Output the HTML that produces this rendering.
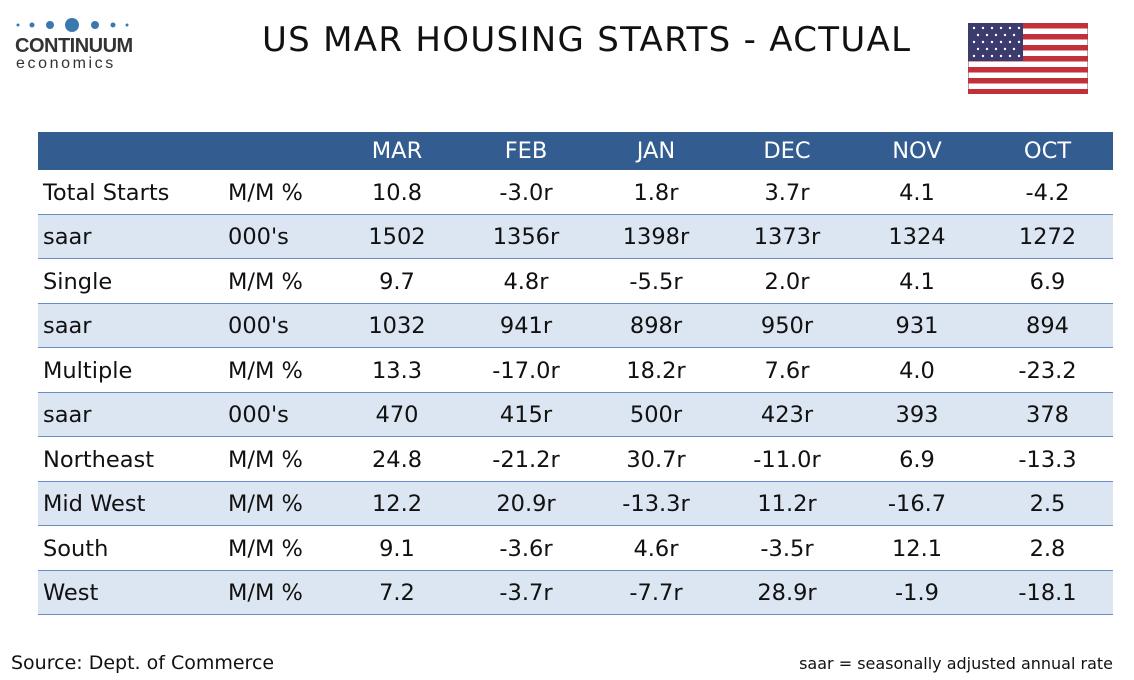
<!DOCTYPE html>
<html><head><style>
body{margin:0;width:1134px;height:680px;background:#fff;font-family:"DejaVu Sans","Liberation Sans",sans-serif;position:relative;overflow:hidden}
.abs{position:absolute}
table{position:absolute;left:38px;top:132px;width:1075px;border-collapse:collapse;font-size:22.5px;color:#111;table-layout:fixed}
td{height:41.5px;padding:2px 0 0 0;border-bottom:1.5px solid #6a8cc4;text-align:center;width:130px}
tr.h td{height:38px;padding:0;background:#335c91;color:#fff;border-bottom:none}
tr.l td{background:#dce6f2}
td.a{text-align:left;padding-left:5px;width:185px}
td.b{text-align:left;width:104px}
</style></head><body>
<svg class="abs" style="left:15px;top:15px" width="115" height="20">
<circle cx="3" cy="10" r="1.5" fill="#3a78b0"/><circle cx="17" cy="10" r="2.5" fill="#3a78b0"/>
<circle cx="35" cy="10" r="4" fill="#3a78b0"/><circle cx="57" cy="10" r="7" fill="#3a78b0"/>
<circle cx="80" cy="10" r="4" fill="#3a78b0"/><circle cx="98" cy="10" r="2.5" fill="#3a78b0"/><circle cx="112" cy="10" r="1.5" fill="#3a78b0"/></svg>
<div class="abs" style="left:15px;top:35px;font:bold 20px 'Liberation Sans',sans-serif;color:#333;letter-spacing:-0.5px">CONTINUUM</div>
<div class="abs" style="left:16px;top:55px;font:16px 'Liberation Sans',sans-serif;color:#333;letter-spacing:2.6px">economics</div>
<div class="abs" style="left:262px;top:20px;font-size:34px;color:#111;letter-spacing:1.3px">US MAR HOUSING STARTS - ACTUAL</div>
<svg class="abs" style="left:968px;top:23px" width="120" height="71" viewBox="0 0 120 71">
<rect width="120" height="71" fill="#fff" stroke="#555"/>
<g fill="#c2313a"><rect y="0" width="120" height="5.5"/><rect y="11" width="120" height="5.5"/><rect y="22" width="120" height="5.5"/><rect y="33" width="120" height="5.5"/><rect y="44" width="120" height="5.5"/><rect y="55" width="120" height="5.5"/><rect y="66" width="120" height="5"/></g>
<rect width="55" height="38" fill="#3b3b6d"/>
<g fill="#fff">
<circle cx="6" cy="5" r="1.2"/><circle cx="15" cy="5" r="1.2"/><circle cx="24" cy="5" r="1.2"/><circle cx="33" cy="5" r="1.2"/><circle cx="42" cy="5" r="1.2"/><circle cx="51" cy="5" r="1.2"/>
<circle cx="10" cy="12" r="1.2"/><circle cx="19" cy="12" r="1.2"/><circle cx="28" cy="12" r="1.2"/><circle cx="37" cy="12" r="1.2"/><circle cx="46" cy="12" r="1.2"/>
<circle cx="6" cy="19" r="1.2"/><circle cx="15" cy="19" r="1.2"/><circle cx="24" cy="19" r="1.2"/><circle cx="33" cy="19" r="1.2"/><circle cx="42" cy="19" r="1.2"/><circle cx="51" cy="19" r="1.2"/>
<circle cx="10" cy="26" r="1.2"/><circle cx="19" cy="26" r="1.2"/><circle cx="28" cy="26" r="1.2"/><circle cx="37" cy="26" r="1.2"/><circle cx="46" cy="26" r="1.2"/>
<circle cx="6" cy="33" r="1.2"/><circle cx="15" cy="33" r="1.2"/><circle cx="24" cy="33" r="1.2"/><circle cx="33" cy="33" r="1.2"/><circle cx="42" cy="33" r="1.2"/><circle cx="51" cy="33" r="1.2"/>
</g></svg>
<table>
<colgroup><col style="width:190px"><col style="width:104px"><col style="width:130px"><col style="width:128px"><col style="width:132px"><col style="width:130px"><col style="width:130px"><col style="width:131px"></colgroup>
<tr class="h"><td class="a"></td><td class="b"></td><td>MAR</td><td>FEB</td><td>JAN</td><td>DEC</td><td>NOV</td><td>OCT</td></tr>
<tr><td class="a">Total Starts</td><td class="b">M/M %</td><td>10.8</td><td>-3.0r</td><td>1.8r</td><td>3.7r</td><td>4.1</td><td>-4.2</td></tr>
<tr class="l"><td class="a">saar</td><td class="b">000's</td><td>1502</td><td>1356r</td><td>1398r</td><td>1373r</td><td>1324</td><td>1272</td></tr>
<tr><td class="a">Single</td><td class="b">M/M %</td><td>9.7</td><td>4.8r</td><td>-5.5r</td><td>2.0r</td><td>4.1</td><td>6.9</td></tr>
<tr class="l"><td class="a">saar</td><td class="b">000's</td><td>1032</td><td>941r</td><td>898r</td><td>950r</td><td>931</td><td>894</td></tr>
<tr><td class="a">Multiple</td><td class="b">M/M %</td><td>13.3</td><td>-17.0r</td><td>18.2r</td><td>7.6r</td><td>4.0</td><td>-23.2</td></tr>
<tr class="l"><td class="a">saar</td><td class="b">000's</td><td>470</td><td>415r</td><td>500r</td><td>423r</td><td>393</td><td>378</td></tr>
<tr><td class="a">Northeast</td><td class="b">M/M %</td><td>24.8</td><td>-21.2r</td><td>30.7r</td><td>-11.0r</td><td>6.9</td><td>-13.3</td></tr>
<tr class="l"><td class="a">Mid West</td><td class="b">M/M %</td><td>12.2</td><td>20.9r</td><td>-13.3r</td><td>11.2r</td><td>-16.7</td><td>2.5</td></tr>
<tr><td class="a">South</td><td class="b">M/M %</td><td>9.1</td><td>-3.6r</td><td>4.6r</td><td>-3.5r</td><td>12.1</td><td>2.8</td></tr>
<tr class="l"><td class="a">West</td><td class="b">M/M %</td><td>7.2</td><td>-3.7r</td><td>-7.7r</td><td>28.9r</td><td>-1.9</td><td>-18.1</td></tr>
</table>
<div class="abs" style="left:11px;top:652px;font-size:19px;color:#111">Source: Dept. of Commerce</div>
<div class="abs" style="right:21px;top:654px;font-size:16px;color:#111">saar = seasonally adjusted annual rate</div>
</body></html>
